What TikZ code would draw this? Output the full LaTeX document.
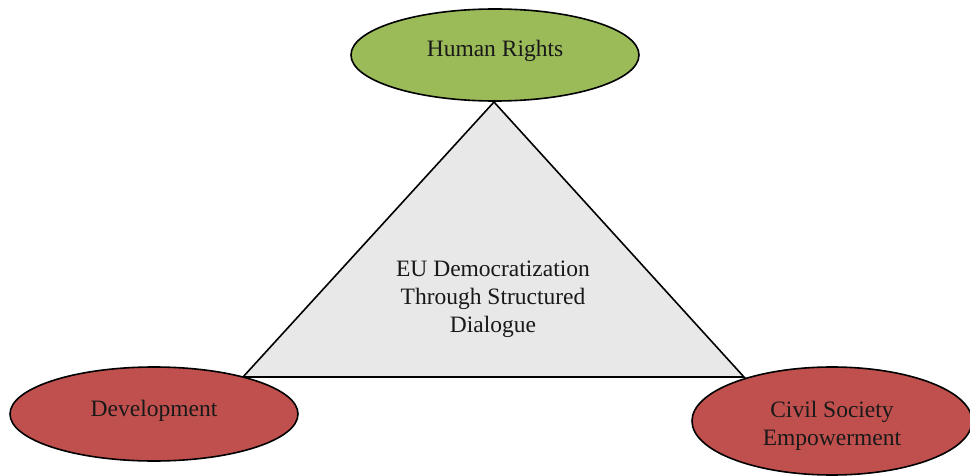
\documentclass[tikz,border=0pt]{standalone}
\usepackage{fontspec}
\setmainfont{Liberation Serif}
\usetikzlibrary{shapes.geometric}
\definecolor{hrgreen}{HTML}{9BBB59}
\definecolor{devred}{HTML}{C0504D}
\definecolor{trigray}{HTML}{E8E8E8}
\begin{document}
\begin{tikzpicture}[x=1pt,y=-1pt,
  oval/.style={ellipse,draw=black,line width=1.6pt,inner sep=0pt},
  lbl/.style={font=\fontsize{23.5}{28}\selectfont,align=center,text=black!90}]
\useasboundingbox (0,0) rectangle (970,476);
\coordinate (apex) at (494,102);
\coordinate (bl) at (243,377);
\coordinate (br) at (744,377);
\draw[fill=trigray,line width=1.6pt,line join=miter] (apex) -- (bl) -- (br) -- cycle;
\node[lbl] (eu) at (493,299.5) {EU Democratization\\Through Structured\\Dialogue};
\node[oval,fill=hrgreen,minimum width=288pt,minimum height=92pt] (hr) at (495,55) {};
\node[lbl] (hrt) at (495,50.5) {Human Rights};
\node[oval,fill=devred,minimum width=288pt,minimum height=94pt] (dev) at (154,414) {};
\node[lbl] (devt) at (154,410.5) {Development};
\node[oval,fill=devred,minimum width=280pt,minimum height=108pt] (cs) at (832,421) {};
\node[lbl] (cst) at (832,425.5) {Civil Society\\Empowerment};
\end{tikzpicture}
\end{document}
